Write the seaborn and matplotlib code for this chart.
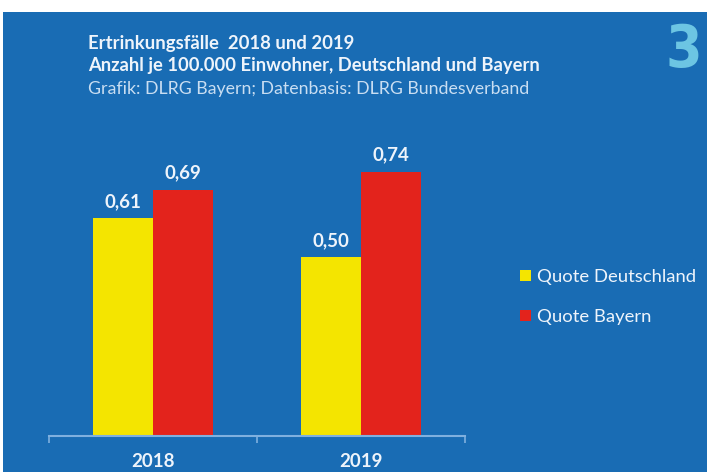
import matplotlib
matplotlib.use('Agg')
import matplotlib.pyplot as plt
import seaborn as sns
import pandas as pd
from matplotlib.patches import Rectangle, Patch

# ---- data ----
years = ['2018', '2019']
series = ['Quote Deutschland', 'Quote Bayern']
quote_de = [0.61, 0.50]
quote_by = [0.69, 0.74]

title1 = 'Ertrinkungsfälle  2018 und 2019'
title2 = 'Anzahl je 100.000 Einwohner, Deutschland und Bayern'
title3 = 'Grafik: DLRG Bayern; Datenbasis: DLRG Bundesverband'

BLUE = '#196cb4'
YELLOW = '#f4e500'
RED = '#e3231c'
TXT = '#eef4fb'
SUB = '#c9def2'
AXIS = '#7fb0df'

df = pd.DataFrame({
    'Jahr': years * 2,
    'Serie': [series[0]] * len(years) + [series[1]] * len(years),
    'Quote': quote_de + quote_by,
})

sns.set_theme(style='white')
plt.rcParams['font.family'] = ['Lato', 'DejaVu Sans']

W, H = 707, 472
fig = plt.figure(figsize=(W / 100, H / 100), dpi=100)
fig.patch.set_facecolor('white')
fig.patches.append(Rectangle((3 / W, 0), 1, (H - 12) / H, transform=fig.transFigure,
                             facecolor=BLUE, edgecolor='none', zorder=-10))

ax = fig.add_axes([49 / W, 36 / H, 416 / W, 306 / H])
ax.set_facecolor('none')
sns.barplot(data=df, x='Jahr', y='Quote', hue='Serie', palette=[YELLOW, RED],
            width=0.58, saturation=1, ax=ax, legend=False, edgecolor='none')
ax.set_xlim(-0.5, 1.5)
ax.set_ylim(0, 306 / 357)

for cont, vals in zip(ax.containers, [quote_de, quote_by]):
    ax.bar_label(cont, labels=[f'{v:.2f}'.replace('.', ',') for v in vals],
                 padding=6, color=TXT, fontweight='bold', fontsize=13.5)

for s in ['top', 'left', 'right']:
    ax.spines[s].set_visible(False)
ax.spines['bottom'].set_color(AXIS)
ax.spines['bottom'].set_linewidth(1.5)
ax.set_yticks([])
ax.set_xticks([0, 1])
ax.set_xticklabels(years, fontweight='bold', fontsize=13.5, color=TXT)
ax.set_xticks([-0.5, 0.5, 1.5], minor=True)
ax.tick_params(axis='x', which='major', length=0, pad=12)
ax.tick_params(axis='x', which='minor', length=5, width=1.2, color=AXIS, direction='out', bottom=True)
ax.set_xlabel('')
ax.set_ylabel('')

def fx(x):
    return x / W

def fy(y):
    return 1 - y / H

fig.text(fx(88), fy(43), title1, color=TXT, fontsize=13.3, fontweight='bold', va='center', ha='left')
fig.text(fx(88), fy(66), title2, color=TXT, fontsize=13.2, fontweight='bold', va='center', ha='left')
fig.text(fx(88), fy(89), title3, color=SUB, fontsize=12.8, va='center', ha='left')
fig.text(fx(684), fy(67), '3', color='#6cc5e3', fontsize=42, fontweight='bold',
         family=['DejaVu Sans'], fontstretch='condensed', va='baseline', ha='center')

handles = [Patch(facecolor=YELLOW, edgecolor='none'), Patch(facecolor=RED, edgecolor='none')]
fig.legend(handles, series, loc='center left', bbox_to_anchor=(fx(520), fy(297)),
           frameon=False, handlelength=0.6, handleheight=0.6, handletextpad=0.3,
           labelspacing=1.3, fontsize=13.3, labelcolor=TXT, borderpad=0, borderaxespad=0)

fig.savefig('out.png', dpi=100, facecolor=fig.get_facecolor())
